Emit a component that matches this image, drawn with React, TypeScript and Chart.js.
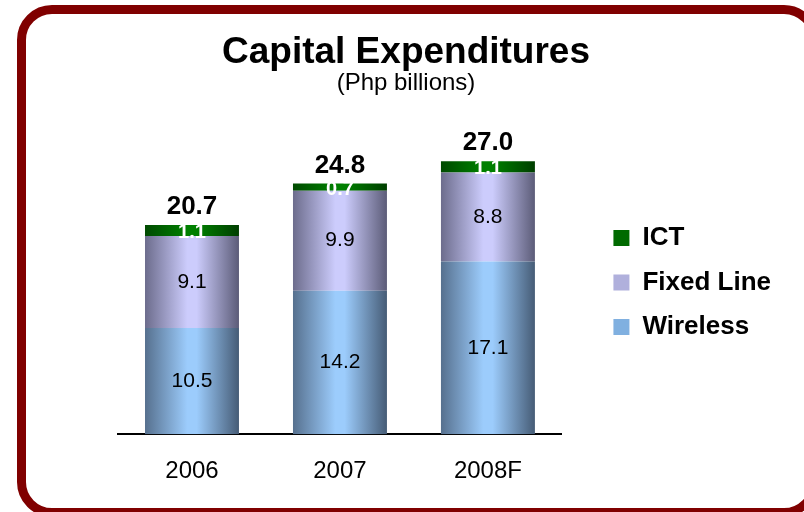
import React, { useEffect, useRef } from "react";
import { Chart, registerables } from "chart.js";

Chart.register(...registerables);

// ---- data ----
const categories = ["2006", "2007", "2008F"];
const wireless = [10.5, 14.2, 17.1];
const fixedLine = [9.1, 9.9, 8.8];
const ict = [1.1, 0.7, 1.1];
const totals = [20.7, 24.8, 27.0];
const seriesNames = ["Wireless", "Fixed Line", "ICT"];
const titleText = "Capital Expenditures";
const subtitleText = "(Php billions)";
const yMax = 30;

const FONT = "'Liberation Sans', Arial, Helvetica, sans-serif";
const BAR_PCT = 0.635;

function gradientFill(dark: string, light: string, darkRight: string, solid: string) {
  return (c: any) => {
    const chart = c.chart;
    const xs = chart.scales && chart.scales.x;
    if (c.type !== "data" || !chart.chartArea || !xs) return solid;
    const xc = xs.getPixelForValue(c.dataIndex);
    const half = ((xs.width / categories.length) * BAR_PCT) / 2;
    if (!isFinite(xc) || !isFinite(half) || half <= 0) return solid;
    const g = chart.ctx.createLinearGradient(xc - half, 0, xc + half, 0);
    g.addColorStop(0, dark);
    g.addColorStop(0.45, light);
    g.addColorStop(0.55, light);
    g.addColorStop(1, darkRight);
    return g;
  };
}

const valueLabels = {
  id: "valueLabels",
  afterDatasetsDraw(chart: any) {
    const ctx = chart.ctx;
    ctx.save();
    ctx.textAlign = "center";
    ctx.textBaseline = "middle";
    chart.data.datasets.forEach((ds: any, di: number) => {
      const meta = chart.getDatasetMeta(di);
      meta.data.forEach((el: any, i: number) => {
        const v = ds.data[i];
        ctx.font = ds.labelFont;
        ctx.fillStyle = ds.labelColor;
        ctx.fillText(v.toFixed(1), el.x, (el.y + el.base) / 2 + (ds.labelShift || 0));
      });
    });
    const topMeta = chart.getDatasetMeta(chart.data.datasets.length - 1);
    ctx.font = `bold 26px ${FONT}`;
    ctx.fillStyle = "#000000";
    topMeta.data.forEach((el: any, i: number) => {
      ctx.fillText(totals[i].toFixed(1), el.x, el.y - 18);
    });
    ctx.restore();
  },
};

export default function App() {
  const canvasRef = useRef<HTMLCanvasElement | null>(null);

  useEffect(() => {
    if (!canvasRef.current) return;
    const chart = new Chart(canvasRef.current, {
      type: "bar",
      data: {
        labels: categories,
        datasets: [
          {
            label: seriesNames[0],
            data: wireless,
            backgroundColor: gradientFill("#56708E", "#9CCCFC", "#465C76", "#7AA8D8"),
            borderWidth: 0,
            labelFont: `21px ${FONT}`,
            labelColor: "#000000",
            legendColor: "#80B0E0",
          } as any,
          {
            label: seriesNames[1],
            data: fixedLine,
            backgroundColor: gradientFill("#6C6C8C", "#CCCCFC", "#5C5C78", "#A8A8D8"),
            borderWidth: 0,
            labelFont: `21px ${FONT}`,
            labelColor: "#000000",
            legendColor: "#B0B0DC",
          } as any,
          {
            label: seriesNames[2],
            data: ict,
            backgroundColor: gradientFill("#004A00", "#008000", "#003E00", "#006400"),
            borderWidth: 0,
            labelFont: `bold 20px ${FONT}`,
            labelColor: "#FFFFFF",
            labelShift: 2,
            legendColor: "#006A00",
          } as any,
        ],
      },
      options: {
        responsive: false,
        animation: false,
        datasets: { bar: { categoryPercentage: 1, barPercentage: BAR_PCT } },
        layout: { padding: { left: 31, right: 23, top: 10, bottom: 3 } },
        plugins: {
          title: {
            display: true,
            text: titleText,
            color: "#000000",
            font: { family: FONT, size: 37, weight: "bold", lineHeight: 1 },
            padding: { top: 24, bottom: 0 },
          },
          subtitle: {
            display: true,
            text: subtitleText,
            color: "#000000",
            font: { family: FONT, size: 24, weight: "normal", lineHeight: 1 },
            padding: { top: 0, bottom: 36 },
          },
          legend: {
            display: true,
            position: "right",
            fullSize: false,
            reverse: true,
            maxWidth: 200,
            labels: {
              boxWidth: 16,
              boxHeight: 16,
              padding: 18.5,
              color: "#000000",
              font: { family: FONT, size: 26, weight: "bold" },
              generateLabels: (chart: any) => {
                const items = Chart.defaults.plugins.legend.labels.generateLabels(chart);
                items.forEach((it: any) => {
                  const ds = chart.data.datasets[it.datasetIndex];
                  it.fillStyle = ds.legendColor;
                  it.strokeStyle = ds.legendColor;
                  it.lineWidth = 0;
                });
                return items;
              },
            },
          },
          tooltip: { enabled: false },
        },
        scales: {
          x: {
            stacked: true,
            grid: { display: false, drawTicks: false },
            border: { display: true, color: "#000000", width: 2 },
            ticks: { color: "#000000", padding: 23, font: { family: FONT, size: 24 } },
          },
          y: {
            stacked: true,
            min: 0,
            max: yMax,
            display: true,
            grid: { display: false, drawTicks: false },
            border: { display: false },
            ticks: { display: false },
            afterFit: (s: any) => {
              s.width = 87;
            },
          },
          y2: {
            type: "linear",
            position: "right",
            display: true,
            grid: { display: false, drawTicks: false },
            border: { display: false },
            ticks: { display: false },
            afterFit: (s: any) => {
              s.width = 33;
            },
          },
        },
      } as any,
      plugins: [valueLabels],
    });
    return () => chart.destroy();
  }, []);

  return (
    <div
      style={{
        position: "fixed",
        left: 0,
        top: 0,
        width: 804,
        height: 512,
        overflow: "hidden",
        background: "#ffffff",
      }}
    >
      <div
        style={{
          position: "absolute",
          left: 17,
          top: 5,
          width: 802,
          height: 512,
          boxSizing: "border-box",
          border: "9px solid #800000",
          borderRadius: 35,
        }}
      />
      <canvas
        ref={canvasRef}
        width={804}
        height={512}
        style={{ position: "absolute", left: 0, top: 0, display: "block" }}
      />
    </div>
  );
}
